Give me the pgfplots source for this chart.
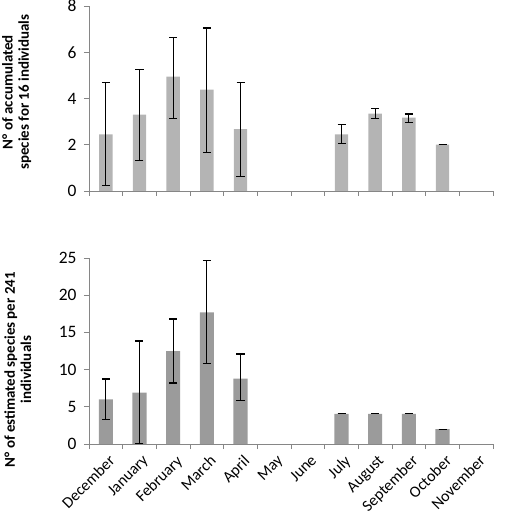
\documentclass[border=0pt]{standalone}
\usepackage{pgfplots}
\usepackage{pgfplotstable}
\pgfplotsset{compat=1.18}
\usepackage{fontspec}
\setmainfont{Carlito}
\definecolor{barA}{RGB}{180,180,180}
\definecolor{barB}{RGB}{155,155,155}
\definecolor{axgray}{RGB}{134,134,134}

\pgfplotstableread{
x y ep em
1 2.45 2.25 2.20
2 3.30 1.95 2.00
3 4.95 1.70 1.80
4 4.38 2.67 2.73
5 2.68 2.02 2.06
8 2.45 0.42 0.39
9 3.35 0.21 0.22
10 3.17 0.16 0.20
11 2.00 0.00 0.00
}\topdata

\pgfplotstableread{
x y ep em
1 6.00 2.74 2.70
2 6.90 6.95 6.80
3 12.50 4.30 4.30
4 17.70 7.00 6.90
5 8.80 3.30 3.00
8 4.05 0.00 0.00
9 4.05 0.00 0.00
10 4.05 0.00 0.00
11 2.00 0.00 0.00
}\botdata

\pgfplotsset{
  myaxis/.style={
    scale only axis,
    width=404bp,
    xmin=0.5, xmax=12.5,
    ymin=0,
    axis x line*=bottom,
    axis y line*=left,
    axis line style={axgray, line width=0.8pt},
    every tick/.style={axgray, line width=0.8pt},
    tick align=outside,
    xtick={1,...,12},
    major x tick style={draw=none},
    minor xtick={0.5,1.5,...,12.5},
    minor tick length=5bp,
    major tick length=5bp,
    ytick pos=left,
    xtick pos=bottom,
    yticklabel style={font=\fontsize{17.5}{19}\selectfont, text=black, xshift=-4bp},
    xticklabel style={font=\fontsize{16}{18}\selectfont, text=black},
    /pgf/number format/assume math mode=true,
    ylabel style={font=\fontsize{15}{16.5}\selectfont\bfseries, align=center},
    clip=false,
  },
  myerr/.style={
    error bars/.cd, y dir=both, y explicit,
    error bar style={black, line width=1.1pt},
    error mark options={black, line width=1.1pt, mark size=4bp, rotate=90},
  }
}

\begin{document}
\begin{tikzpicture}
\useasboundingbox (-89bp,-78bp) rectangle (421bp,444bp);

\begin{axis}[myaxis,
  height=186bp,
  ymax=25, ytick={0,5,...,25},
  xticklabels={December,January,February,March,April,May,June,July,August,September,October,November},
  xticklabel style={rotate=45, anchor=north east, inner sep=2bp, yshift=-3bp},
  ylabel={N° of estimated species per 241\\individuals},
  ylabel style={at={(axis description cs:-0.134,0.40)}, anchor=south},
]
\addplot[ybar, bar width=0.42, fill=barB, draw=none, myerr]
  table[x=x, y=y, y error plus=ep, y error minus=em] {\botdata};
\end{axis}

\begin{axis}[myaxis,
  yshift=253bp,
  height=185bp,
  ymax=8, ytick={0,2,...,8},
  xticklabels={},
  ylabel={N° of accumulated\\species for 16 individuals},
  ylabel style={at={(axis description cs:-0.134,0.535)}, anchor=south},
]
\addplot[ybar, bar width=0.40, fill=barA, draw=none, myerr]
  table[x=x, y=y, y error plus=ep, y error minus=em] {\topdata};
\end{axis}
\end{tikzpicture}
\end{document}
